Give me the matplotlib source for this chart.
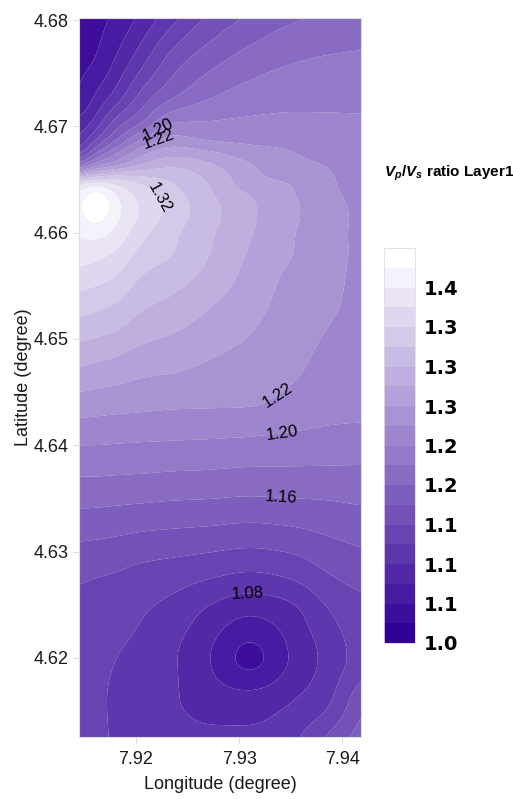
import numpy as np
import matplotlib
matplotlib.use('Agg')
import matplotlib.pyplot as plt
from matplotlib.colors import to_rgb

# estimated Vp/Vs field
lon = [7.9145, 7.916, 7.918, 7.9205, 7.9235, 7.927, 7.931, 7.935, 7.9385, 7.9418]
lat = [4.6802, 4.6765, 4.673, 4.6705, 4.6685, 4.6675, 4.6665, 4.6655, 4.6645,
       4.6635, 4.6625, 4.6615, 4.660, 4.658, 4.656, 4.6535, 4.651, 4.648,
       4.644, 4.640, 4.636, 4.632, 4.628, 4.624, 4.620, 4.616, 4.61255]
vpvs = [
    [1.030, 1.033, 1.043, 1.064, 1.093, 1.123, 1.143, 1.157, 1.162, 1.165],
    [1.035, 1.038, 1.060, 1.090, 1.127, 1.150, 1.167, 1.177, 1.181, 1.183],
    [1.038, 1.060, 1.085, 1.125, 1.155, 1.176, 1.188, 1.193, 1.194, 1.194],
    [1.061, 1.083, 1.126, 1.155, 1.198, 1.200, 1.203, 1.204, 1.203, 1.202],
    [1.082, 1.124, 1.163, 1.208, 1.233, 1.222, 1.218, 1.216, 1.211, 1.206],
    [1.109, 1.157, 1.197, 1.234, 1.253, 1.245, 1.228, 1.221, 1.213, 1.207],
    [1.153, 1.205, 1.225, 1.257, 1.274, 1.262, 1.241, 1.225, 1.219, 1.208],
    [1.250, 1.280, 1.295, 1.294, 1.292, 1.274, 1.246, 1.229, 1.222, 1.210],
    [1.338, 1.365, 1.343, 1.322, 1.302, 1.281, 1.251, 1.241, 1.224, 1.211],
    [1.360, 1.395, 1.362, 1.333, 1.310, 1.284, 1.260, 1.242, 1.226, 1.212],
    [1.368, 1.410, 1.368, 1.338, 1.313, 1.288, 1.264, 1.244, 1.229, 1.214],
    [1.368, 1.395, 1.366, 1.337, 1.312, 1.288, 1.264, 1.244, 1.229, 1.215],
    [1.362, 1.370, 1.357, 1.327, 1.305, 1.284, 1.262, 1.242, 1.228, 1.215],
    [1.352, 1.347, 1.339, 1.313, 1.301, 1.281, 1.258, 1.241, 1.227, 1.216],
    [1.334, 1.330, 1.322, 1.300, 1.290, 1.275, 1.254, 1.236, 1.225, 1.216],
    [1.313, 1.308, 1.302, 1.285, 1.277, 1.263, 1.249, 1.232, 1.223, 1.216],
    [1.292, 1.288, 1.283, 1.270, 1.263, 1.253, 1.242, 1.228, 1.220, 1.215],
    [1.266, 1.262, 1.258, 1.250, 1.247, 1.240, 1.233, 1.225, 1.216, 1.213],
    [1.232, 1.230, 1.228, 1.226, 1.224, 1.223, 1.222, 1.215, 1.208, 1.207],
    [1.200, 1.200, 1.199, 1.198, 1.197, 1.196, 1.194, 1.192, 1.191, 1.189],
    [1.173, 1.173, 1.172, 1.171, 1.169, 1.168, 1.166, 1.167, 1.167, 1.169],
    [1.147, 1.146, 1.144, 1.141, 1.139, 1.137, 1.134, 1.137, 1.143, 1.148],
    [1.124, 1.122, 1.120, 1.115, 1.111, 1.105, 1.099, 1.105, 1.120, 1.130],
    [1.115, 1.110, 1.107, 1.101, 1.092, 1.075, 1.060, 1.072, 1.097, 1.113],
    [1.113, 1.107, 1.100, 1.096, 1.083, 1.062, 1.033, 1.062, 1.086, 1.110],
    [1.112, 1.105, 1.097, 1.093, 1.083, 1.071, 1.068, 1.079, 1.095, 1.136],
    [1.112, 1.105, 1.098, 1.095, 1.090, 1.085, 1.085, 1.095, 1.122, 1.150],
]

levels = np.round(np.arange(1.00, 1.401, 0.02), 2)
cbar_labels = ['1.0', '1.1', '1.1', '1.1', '1.2', '1.2', '1.3', '1.3', '1.3', '1.4']

label_levels = [1.20, 1.22, 1.32, 1.22, 1.20, 1.16, 1.08]
label_lon = [7.9220, 7.9222, 7.9220, 7.9343, 7.9342, 7.9341, 7.9308]
label_lat = [4.6700, 4.6687, 4.6631, 4.6439, 4.6408, 4.6352, 4.6259]

plt.rcParams['font.family'] = ['Liberation Sans', 'DejaVu Sans']
plt.rcParams['mathtext.fontset'] = 'custom'
plt.rcParams['mathtext.it'] = 'Liberation Sans:italic:bold'
plt.rcParams['mathtext.rm'] = 'Liberation Sans:bold'


def pchip(x, y, xn):
    # monotone piecewise cubic (Fritsch-Carlson), x ascending
    x = np.asarray(x, float)
    y = np.asarray(y, float)
    h = np.diff(x)
    d = np.diff(y) / h
    m = np.zeros_like(y)
    m[0], m[-1] = d[0], d[-1]
    for k in range(1, len(x) - 1):
        if d[k - 1] * d[k] > 0:
            w1 = 2 * h[k] + h[k - 1]
            w2 = h[k] + 2 * h[k - 1]
            m[k] = (w1 + w2) / (w1 / d[k - 1] + w2 / d[k])
    i = np.clip(np.searchsorted(x, xn) - 1, 0, len(x) - 2)
    t = (xn - x[i]) / h[i]
    h00 = 2 * t**3 - 3 * t**2 + 1
    h10 = t**3 - 2 * t**2 + t
    h01 = -2 * t**3 + 3 * t**2
    h11 = t**3 - t**2
    return h00 * y[i] + h10 * h[i] * m[i] + h01 * y[i + 1] + h11 * h[i] * m[i + 1]


def blur_1d(a, sigma, axis):
    r = int(3 * sigma)
    k = np.exp(-0.5 * (np.arange(-r, r + 1) / sigma) ** 2)
    k /= k.sum()
    pad = [(0, 0), (0, 0)]
    pad[axis] = (r, r)
    p = np.pad(a, pad, mode='edge')
    return np.apply_along_axis(lambda v: np.convolve(v, k, mode='valid'), axis, p)


# resample the estimated grid onto a fine raster, soften more along x
z = np.array(vpvs)[::-1]
lat_up = np.array(lat)[::-1]
xf = np.linspace(lon[0], lon[-1], 300)
yf = np.linspace(lat[-1], lat[0], 760)
zcol = np.array([pchip(lat_up, z[:, i], yf) for i in range(len(lon))]).T
ZF = np.array([pchip(lon, row, xf) for row in zcol])
ZF = blur_1d(blur_1d(ZF, 8, 1), 3.5, 0)
ZF = np.clip(ZF, 1.0005, 1.3995)
XF, YF = np.meshgrid(xf, yf)

# band colours: straight ramp from deep indigo to white
c0 = np.array(to_rgb('#330097'))
c1 = np.array(to_rgb('#ffffff'))
nb = len(levels) - 1
band_colors = [tuple(c0 + (c1 - c0) * k / (nb - 1)) for k in range(nb)]

fig = plt.figure(figsize=(5.13, 7.99), dpi=100)
ax = fig.add_axes([79 / 513, 1 - 737 / 799, 282 / 513, 719 / 799])

cf = ax.contourf(XF, YF, ZF, levels=levels, colors=band_colors, antialiased=True)
ax.contour(XF, YF, ZF, levels=levels, colors='#000000', linewidths=0.3, alpha=0.08)

for lev in sorted(set(label_levels)):
    pts = [(x, y) for l, x, y in zip(label_levels, label_lon, label_lat) if l == lev]
    cs = ax.contour(XF, YF, ZF, levels=[lev], colors='k', linewidths=0)
    ax.clabel(cs, manual=pts, fmt='%.2f', fontsize=12, colors='k', inline=True)

ax.set_xlim(lon[0], lon[-1])
ax.set_ylim(lat[-1], lat[0])
ax.set_xticks([7.92, 7.93, 7.94])
ax.set_yticks([4.62, 4.63, 4.64, 4.65, 4.66, 4.67, 4.68])
ax.tick_params(labelsize=13, colors='#dddddd', labelcolor='#1a1a1a', length=4, width=0.8)
ax.tick_params(axis='x', pad=6)
for s in ax.spines.values():
    s.set_color('#dddddd')
    s.set_linewidth(0.8)
ax.set_xlabel('Longitude (degree)', fontsize=13, color='#1a1a1a', labelpad=6)
ax.set_ylabel('Latitude (degree)', fontsize=13, color='#1a1a1a', labelpad=1)

cax = fig.add_axes([384 / 513, 1 - 643 / 799, 31 / 513, 395 / 799])
cb = fig.colorbar(cf, cax=cax, ticks=levels[0:19:2])
cb.ax.set_yticklabels(cbar_labels)
cb.ax.tick_params(length=0, pad=6)
for t in cb.ax.get_yticklabels():
    t.set_fontweight('bold')
    t.set_fontsize(14)
    t.set_family('DejaVu Sans')
cb.outline.set_edgecolor('#dddddd')
cb.outline.set_linewidth(0.6)

fig.text(384 / 513, 1 - 173 / 799, r'$V_p/V_s$ ratio Layer1', fontsize=11,
         fontweight='bold', va='center', ha='left')

fig.savefig('out.png', dpi=100)
